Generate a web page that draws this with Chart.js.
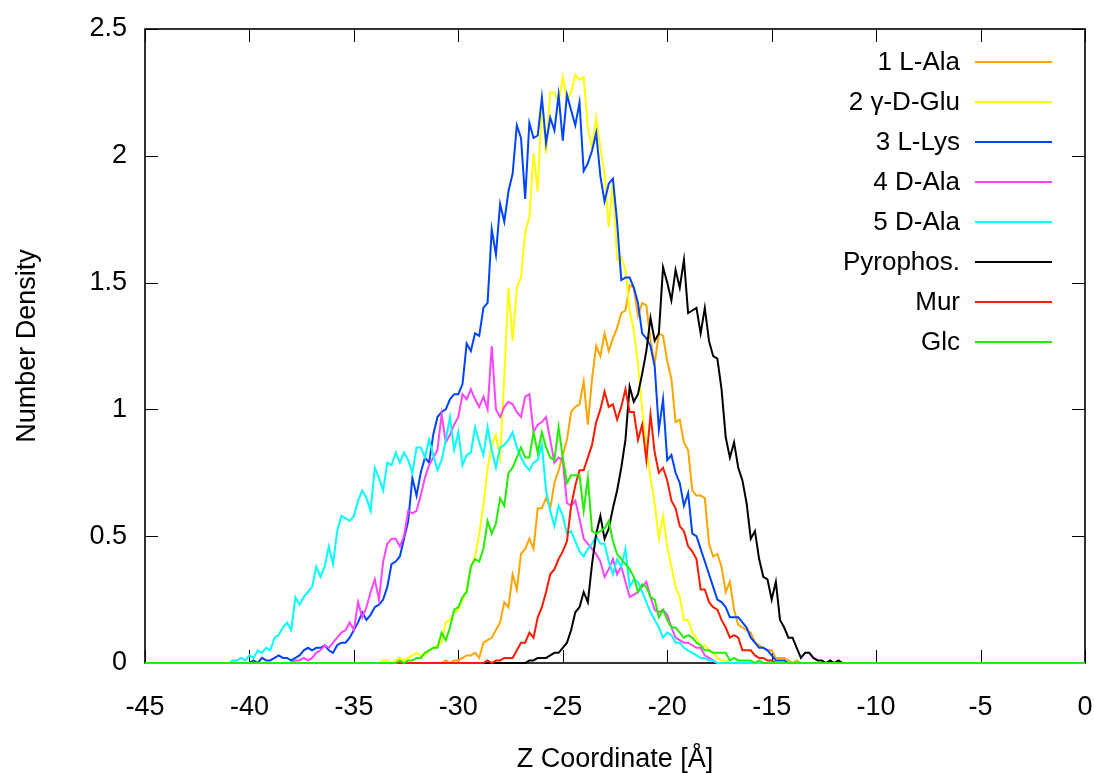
<!DOCTYPE html>
<html><head><meta charset="utf-8">
<script src="https://cdn.jsdelivr.net/npm/chart.js@4/dist/chart.umd.min.js"></script>
<style>html,body{margin:0;padding:0;background:#fff;}#wrap{width:1094px;height:773px;}</style>
</head><body><div id="wrap"><canvas id="c" width="1094" height="773"></canvas></div>
<script>
// ---- data (Z coordinate grid step 0.2 Å; each series starts at its own Z) ----
const zStep = 0.2;
const seriesNames = ['1 L-Ala', '2 \u03b3-D-Glu', '3 L-Lys', '4 D-Ala', '5 D-Ala', 'Pyrophos.', 'Mur', 'Glc'];
const seriesColors = ['#ffa500', '#ffff00', '#0044ff', '#ff44ff', '#00ffff', '#000000', '#ff1a00', '#22ee00'];
const xTickLabels = ['-45', '-40', '-35', '-30', '-25', '-20', '-15', '-10', '-5', '0'];
const yTickLabels = ['0', '0.5', '1', '1.5', '2', '2.5'];

const lAlaStart = -31.0;
const lAla = [0,0,0.01,0,0.01,0.01,0.02,0.03,0.03,0.04,
0.02,0.08,0.09,0.10,0.13,0.16,0.24,0.22,0.35,0.29,
0.43,0.45,0.49,0.45,0.61,0.61,0.65,0.61,0.71,0.76,
0.82,0.88,0.99,1.01,1.02,1.11,0.94,1.12,1.25,1.21,
1.30,1.23,1.28,1.32,1.38,1.39,1.49,1.48,1.37,1.42,
1.41,1.27,1.18,1.30,1.29,1.19,1.12,0.95,0.96,0.87,
0.84,0.68,0.66,0.66,0.65,0.47,0.42,0.43,0.38,0.28,
0.32,0.21,0.15,0.14,0.13,0.12,0.08,0.07,0.06,0.05,
0.05,0.02,0.02,0.02,0.01,0,0.01,0];

const dGluStart = -34.0;
const dGlu = [0,0,0.01,0.01,0,0.01,0.02,0.01,0.02,0.03,
0.04,0.03,0.03,0.05,0.06,0.07,0.08,0.16,0.17,0.20,
0.21,0.25,0.29,0.38,0.42,0.51,0.62,0.77,0.86,0.90,
0.81,1.13,1.48,1.27,1.48,1.52,1.70,1.76,2.01,1.86,
2.22,2.01,2.25,2.25,2.21,2.31,2.22,2.25,2.32,2.30,
2.31,2.11,2.03,2.15,2.03,1.93,1.72,1.90,1.59,1.60,
1.55,1.39,1.31,1.18,1.00,0.85,0.73,0.63,0.49,0.58,
0.46,0.38,0.30,0.26,0.17,0.17,0.12,0.10,0.06,0.07,
0.05,0.04,0.02,0.01,0.01,0];

const lLysStart = -40.0;
const lLys = [0,0.01,0,0.02,0.01,0.01,0.02,0.03,0.02,0.02,
0.01,0.02,0.03,0.05,0.06,0.05,0.06,0.06,0.07,0.05,
0.04,0.07,0.08,0.08,0.10,0.13,0.16,0.20,0.17,0.19,
0.22,0.23,0.25,0.30,0.39,0.40,0.42,0.49,0.56,0.73,
0.66,0.75,0.81,0.79,0.90,0.97,0.99,1.00,1.04,1.06,
1.06,1.10,1.26,1.23,1.30,1.29,1.40,1.42,1.71,1.61,
1.81,1.74,1.86,1.93,2.12,2.07,1.83,2.13,2.07,2.08,
2.23,2.05,2.15,2.10,2.24,2.06,2.24,2.18,2.12,2.21,
1.94,1.97,2.02,2.09,1.92,1.82,1.89,1.91,1.74,1.51,
1.52,1.52,1.48,1.42,1.30,1.28,1.25,1.17,0.92,1.04,
0.80,0.82,0.75,0.71,0.62,0.67,0.51,0.50,0.45,0.40,
0.35,0.30,0.25,0.24,0.22,0.18,0.18,0.18,0.16,0.14,
0.10,0.08,0.06,0.06,0.05,0.03,0.01,0.01,0.01,0,
0];

const dAla4Start = -38.0;
const dAla4 = [0,0.01,0.01,0.02,0.01,0.02,0.04,0.05,0.07,0.06,
0.08,0.10,0.12,0.13,0.16,0.13,0.24,0.18,0.22,0.28,
0.33,0.25,0.40,0.47,0.49,0.49,0.46,0.50,0.60,0.59,
0.60,0.66,0.73,0.78,0.81,0.84,0.98,0.87,0.90,0.94,
0.97,1.06,1.04,1.08,1.04,1.01,1.05,1.00,1.25,1.00,
0.97,1.01,1.03,1.02,0.99,0.97,1.05,1.06,0.91,0.94,
0.95,0.97,0.88,0.79,0.81,0.80,0.63,0.62,0.64,0.57,
0.49,0.47,0.45,0.43,0.40,0.34,0.37,0.41,0.35,0.38,
0.32,0.26,0.27,0.28,0.30,0.32,0.26,0.21,0.20,0.21,
0.19,0.14,0.10,0.09,0.08,0.08,0.07,0.06,0.06,0.03,
0.02,0.01,0];

const dAla5Start = -41.0;
const dAla5 = [0,0.01,0.01,0.02,0.01,0.03,0.02,0.05,0.04,0.06,
0.05,0.10,0.11,0.14,0.16,0.13,0.26,0.23,0.26,0.28,
0.30,0.38,0.34,0.38,0.46,0.39,0.52,0.58,0.57,0.56,
0.58,0.64,0.68,0.65,0.60,0.77,0.73,0.68,0.79,0.78,
0.83,0.79,0.83,0.80,0.75,0.85,0.85,0.81,0.88,0.82,
0.76,0.80,0.88,0.97,0.84,0.91,0.78,0.82,0.83,0.93,
0.87,0.82,0.93,0.84,0.77,0.85,0.86,0.88,0.91,0.85,
0.81,0.78,0.76,0.79,0.80,0.86,0.68,0.60,0.54,0.62,
0.58,0.51,0.52,0.48,0.44,0.42,0.45,0.47,0.50,0.47,
0.47,0.40,0.35,0.41,0.38,0.45,0.30,0.33,0.32,0.28,
0.24,0.20,0.17,0.14,0.10,0.12,0.11,0.08,0.08,0.06,
0.05,0.04,0.03,0.02,0.02,0.01,0.01,0];

const pyroStart = -27.0;
const pyro = [0,0,0.01,0.01,0.02,0.02,0.02,0.03,0.04,0.04,
0.06,0.08,0.13,0.20,0.22,0.28,0.24,0.39,0.51,0.58,
0.49,0.53,0.61,0.68,0.77,0.88,1.09,1.03,1.06,1.14,
1.23,1.36,1.27,1.30,1.56,1.50,1.43,1.55,1.48,1.59,
1.38,1.39,1.40,1.30,1.40,1.27,1.21,1.20,1.08,0.89,
0.81,0.87,0.77,0.72,0.63,0.49,0.52,0.41,0.34,0.33,
0.25,0.32,0.17,0.14,0.10,0.10,0.06,0.02,0.04,0.04,
0.02,0.01,0.01,0,0.01,0,0.01,0];

const murStart = -29.0;
const mur = [0,0,0.01,0,0.01,0.01,0.02,0.02,0.02,0.05,
0.08,0.08,0.12,0.10,0.18,0.22,0.28,0.35,0.37,0.41,
0.44,0.48,0.62,0.70,0.76,0.76,0.81,0.86,0.95,1.00,
1.07,1.01,1.02,0.96,1.01,1.08,0.99,0.99,0.88,0.94,
0.80,0.98,0.83,0.75,0.77,0.72,0.64,0.61,0.54,0.52,
0.46,0.44,0.41,0.29,0.29,0.24,0.22,0.21,0.17,0.14,
0.10,0.11,0.10,0.05,0.05,0.05,0.03,0.02,0.02,0.01,
0.01,0,0];

const glcStart = -33.0;
const glc = [0,0.01,0,0.01,0.01,0.02,0.02,0.04,0.05,0.06,
0.06,0.12,0.09,0.14,0.21,0.22,0.26,0.28,0.38,0.41,
0.40,0.45,0.56,0.51,0.55,0.65,0.62,0.75,0.77,0.81,
0.85,0.81,0.81,0.91,0.83,0.91,0.85,0.81,0.80,0.93,
0.81,0.71,0.74,0.74,0.74,0.60,0.73,0.52,0.51,0.52,
0.53,0.56,0.48,0.43,0.41,0.39,0.37,0.34,0.28,0.31,
0.30,0.26,0.25,0.18,0.21,0.17,0.14,0.14,0.12,0.10,
0.11,0.10,0.08,0.07,0.05,0.05,0.04,0.04,0.04,0.04,
0.01,0.02,0.01,0.01,0.01,0.01,0,0.01,0,0,
0];

const zMin = -45, zMax = 0;
const seriesStarts = [lAlaStart, dGluStart, lLysStart, dAla4Start, dAla5Start, pyroStart, murStart, glcStart];
const seriesValues = [lAla, dGlu, lLys, dAla4, dAla5, pyro, mur, glc];

function toPoints(start, vals) {
  const pts = [{x: zMin, y: 0}];
  vals.forEach((v, i) => pts.push({x: +(start + i * zStep).toFixed(2), y: v}));
  pts.push({x: zMax, y: 0});
  return pts;
}

const FONT = 'Liberation Sans, Arial, Helvetica, sans-serif';

const framePlugin = {
  id: 'frame',
  beforeDatasetsDraw(chart) {
    const {ctx, chartArea: a, scales: {x, y}} = chart;
    ctx.save();
    ctx.strokeStyle = '#000';
    ctx.lineWidth = 1;
    const tl = 13;
    ctx.beginPath();
    x.ticks.forEach(t => {
      const px = Math.round(x.getPixelForValue(t.value)) + 0.5;
      ctx.moveTo(px, a.bottom); ctx.lineTo(px, a.bottom - tl);
      ctx.moveTo(px, a.top); ctx.lineTo(px, a.top + tl);
    });
    y.ticks.forEach(t => {
      const py = Math.round(y.getPixelForValue(t.value)) + 0.5;
      ctx.moveTo(a.left, py); ctx.lineTo(a.left + tl, py);
      ctx.moveTo(a.right, py); ctx.lineTo(a.right - tl, py);
    });
    ctx.stroke();
    ctx.lineWidth = 1.6;
    ctx.strokeRect(a.left, a.top, a.right - a.left, a.bottom - a.top);
    ctx.restore();
  }
};

const legendPlugin = {
  id: 'keybox',
  afterDatasetsDraw(chart) {
    const {ctx} = chart;
    ctx.save();
    ctx.font = '26px ' + FONT;
    ctx.textAlign = 'right';
    ctx.textBaseline = 'middle';
    chart.data.datasets.forEach((ds, i) => {
      const yy = 62 + 40 * i;
      ctx.fillStyle = '#000';
      ctx.fillText(ds.label, 960, yy + 1);
      ctx.strokeStyle = ds.borderColor;
      ctx.lineWidth = 2;
      ctx.beginPath();
      ctx.moveTo(975, yy); ctx.lineTo(1052, yy);
      ctx.stroke();
    });
    ctx.restore();
  }
};

new Chart(document.getElementById('c'), {
  type: 'line',
  data: {
    datasets: seriesNames.map((name, i) => ({
      label: name,
      data: toPoints(seriesStarts[i], seriesValues[i]),
      borderColor: seriesColors[i],
      backgroundColor: seriesColors[i],
      borderWidth: 2,
      pointRadius: 0,
      tension: 0,
      fill: false,
      clip: 3,
      order: seriesNames.length - 1 - i
    }))
  },
  options: {
    responsive: false,
    animation: false,
    devicePixelRatio: 1,
    layout: {padding: {top: 29, right: 9, left: 0, bottom: 0}},
    plugins: {legend: {display: false}, tooltip: {enabled: false}},
    scales: {
      x: {
        type: 'linear', min: zMin, max: zMax,
        grid: {display: false, drawTicks: false, tickLength: 0},
        border: {display: false},
        ticks: {stepSize: 5, autoSkip: false, maxRotation: 0, padding: 28, color: '#000',
          font: {family: FONT, size: 27},
          callback: (v, i) => xTickLabels[i]},
        title: {display: true, text: 'Z Coordinate [\u00c5]', color: '#000',
          font: {family: FONT, size: 27, lineHeight: 1}, padding: {top: 0, bottom: 0}},
        afterFit(s) { s.height = 110; s.paddingLeft = 0; s.paddingRight = 0; }
      },
      y: {
        type: 'linear', min: 0, max: 2.5,
        grid: {display: false, drawTicks: false, tickLength: 0},
        border: {display: false},
        ticks: {stepSize: 0.5, autoSkip: false, padding: 18, color: '#000',
          font: {family: FONT, size: 27},
          callback: (v, i) => yTickLabels[i]},
        title: {display: true, text: 'Number Density', color: '#000',
          font: {family: FONT, size: 27, lineHeight: 1}, padding: {top: 14, bottom: 0}},
        afterFit(s) { s.width = 145; s.paddingTop = 0; s.paddingBottom = 0; }
      }
    }
  },
  plugins: [framePlugin, legendPlugin]
});
</script></body></html>
